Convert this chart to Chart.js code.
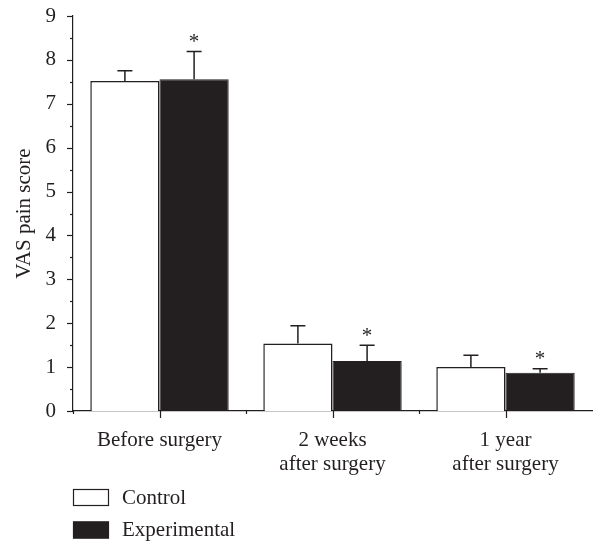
<!DOCTYPE html>
<html>
<head>
<meta charset="utf-8">
<script src="https://cdn.jsdelivr.net/npm/chart.js@4/dist/chart.umd.min.js"></script>
<style>
html,body{margin:0;padding:0;background:#fff;}
#wrap{width:595px;height:543px;position:relative;}
</style>
</head>
<body>
<div id="wrap"><canvas id="c" width="595" height="543"></canvas></div>
<script>
const categories = [['Before surgery'], ['2 weeks', 'after surgery'], ['1 year', 'after surgery']];
const seriesNames = ['Control', 'Experimental'];
const controlMean = [7.52, 1.54, 1.00];
const controlSD = [0.23, 0.40, 0.27];
const experimentalMean = [7.56, 1.14, 0.87];
const experimentalSD = [0.63, 0.36, 0.09];
const experimentalSignificant = [true, true, true];
const yTicks = [0, 1, 2, 3, 4, 5, 6, 7, 8, 9];

const INK = '#231f20';
const FONT = "'Liberation Serif', 'Times New Roman', serif";
const FS = 21;

const errorBarPlugin = {
  id: 'errorBars',
  afterDatasetsDraw(chart) {
    const ctx = chart.ctx;
    const y = chart.scales.y;
    ctx.save();
    ctx.strokeStyle = INK;
    ctx.lineWidth = 1.5;
    chart.data.datasets.forEach((ds, di) => {
      const meta = chart.getDatasetMeta(di);
      meta.data.forEach((bar, i) => {
        const top = y.getPixelForValue(ds.data[i]);
        const cap = y.getPixelForValue(ds.data[i] + ds.sd[i]);
        ctx.beginPath();
        ctx.moveTo(bar.x, top);
        ctx.lineTo(bar.x, cap);
        ctx.moveTo(bar.x - 7.5, cap);
        ctx.lineTo(bar.x + 7.5, cap);
        ctx.stroke();
        if (ds.sig && ds.sig[i]) {
          ctx.fillStyle = INK;
          ctx.font = '21px ' + FONT;
          ctx.textAlign = 'center';
          ctx.textBaseline = 'middle';
          ctx.fillText('*', bar.x, cap - 9);
        }
      });
    });
    ctx.restore();
  }
};

const axisTicksPlugin = {
  id: 'axisTicks',
  afterDraw(chart) {
    const ctx = chart.ctx;
    const x = chart.scales.x, y = chart.scales.y;
    const area = chart.chartArea;
    ctx.save();
    ctx.strokeStyle = INK;
    ctx.lineWidth = 1.2;
    for (let v = y.min; v <= y.max + 1e-9; v += 0.5) {
      const py = Math.round(y.getPixelForValue(v)) + 0.5;
      const major = Math.abs(v - Math.round(v)) < 1e-9;
      ctx.beginPath();
      ctx.moveTo(area.left - (major ? 6 : 3), py);
      ctx.lineTo(area.left, py);
      ctx.stroke();
    }
    const n = chart.data.labels.length;
    const half = (x.getPixelForValue(1) - x.getPixelForValue(0)) / 2;
    for (let i = 0; i < n; i++) {
      const px = Math.round(x.getPixelForValue(i)) + 0.5;
      ctx.beginPath();
      ctx.moveTo(px, area.bottom);
      ctx.lineTo(px, area.bottom + 7);
      ctx.stroke();
      const bx = Math.round(x.getPixelForValue(i) - half) + 0.5;
      ctx.beginPath();
      ctx.moveTo(bx, area.bottom);
      ctx.lineTo(bx, area.bottom + 3);
      ctx.stroke();
    }
    ctx.restore();
  }
};

const legendPlugin = {
  id: 'vertLegend',
  afterDraw(chart) {
    const ctx = chart.ctx;
    const left = chart.chartArea.left;
    ctx.save();
    ctx.font = FS + 'px ' + FONT;
    ctx.textBaseline = 'middle';
    ctx.textAlign = 'left';
    chart.data.datasets.forEach((ds, i) => {
      const top = 489 + i * 32.5;
      ctx.fillStyle = ds.backgroundColor;
      ctx.fillRect(left, top, 36, 17);
      ctx.strokeStyle = INK;
      ctx.lineWidth = 1.2;
      ctx.strokeRect(left + 0.5, top + 0.5, 35, 16);
      ctx.fillStyle = INK;
      ctx.fillText(ds.label, left + 49, top + 9);
    });
    ctx.restore();
  }
};

new Chart(document.getElementById('c'), {
  type: 'bar',
  data: {
    labels: categories,
    datasets: [
      { label: seriesNames[0], data: controlMean, sd: controlSD, backgroundColor: '#ffffff', borderColor: INK, borderWidth: 1.5 },
      { label: seriesNames[1], data: experimentalMean, sd: experimentalSD, sig: experimentalSignificant, backgroundColor: INK, borderColor: INK, borderWidth: 1 }
    ]
  },
  options: {
    responsive: false,
    animation: false,
    maintainAspectRatio: false,
    layout: { padding: { top: 16, right: 3, left: 0, bottom: 0 } },
    datasets: { bar: { categoryPercentage: 0.8, barPercentage: 1.0, borderSkipped: 'bottom' } },
    plugins: { legend: { display: false }, tooltip: { enabled: false } },
    scales: {
      x: {
        grid: { display: false },
        border: { display: true, color: INK, width: 1.2 },
        ticks: { color: INK, font: { family: FONT, size: FS, lineHeight: 1.12 }, padding: 10, maxRotation: 0 },
        afterFit(s) { s.height = 132; s.paddingLeft = 0; s.paddingRight = 0; }
      },
      y: {
        min: 0, max: 9,
        grid: { display: false },
        border: { display: true, color: INK, width: 1.2 },
        afterBuildTicks(s) { s.ticks = yTicks.map(v => ({ value: v })); },
        ticks: { color: INK, font: { family: FONT, size: FS }, padding: 9 },
        title: { display: true, text: 'VAS pain score', color: INK, font: { family: FONT, size: FS }, padding: { top: 12, bottom: 0 } },
        afterFit(s) { s.width = 73; s.paddingTop = 0; s.paddingBottom = 0; }
      }
    }
  },
  plugins: [errorBarPlugin, axisTicksPlugin, legendPlugin]
});
</script>
</body>
</html>
